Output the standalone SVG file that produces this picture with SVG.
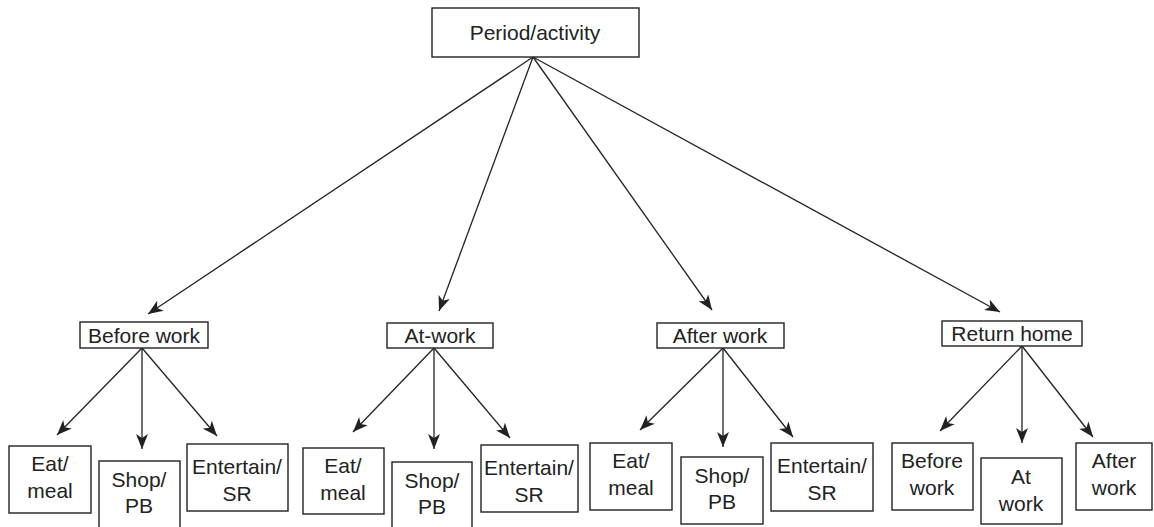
<svg xmlns="http://www.w3.org/2000/svg" width="1154" height="527" viewBox="0 0 1154 527">
<style>
rect{fill:#fff;stroke:#222;stroke-width:1.4}
text{font-family:"Liberation Sans",Arial,sans-serif;font-size:21px;fill:#222;text-anchor:middle}
.c line{stroke:#222;stroke-width:1.3;marker-end:url(#ah)}
</style>
<defs>
<marker id="ah" markerUnits="userSpaceOnUse" markerWidth="16" markerHeight="12" refX="15" refY="6" orient="auto">
<path d="M0,0 L15,6 L0,12 L4,6 Z" fill="#222"/>
</marker>
</defs>
<g class="c" id="connectors">
<line x1="533" y1="57" x2="148" y2="314"/>
<line x1="533" y1="57" x2="439" y2="311"/>
<line x1="533" y1="57" x2="712" y2="310"/>
<line x1="533" y1="57" x2="1000" y2="312"/>
<line x1="142" y1="348" x2="57" y2="435"/>
<line x1="142" y1="348" x2="142" y2="449"/>
<line x1="142" y1="348" x2="217" y2="436"/>
<line x1="434" y1="348" x2="353" y2="432"/>
<line x1="434" y1="348" x2="434" y2="449"/>
<line x1="434" y1="348" x2="510" y2="438"/>
<line x1="723" y1="348" x2="640" y2="430"/>
<line x1="723" y1="348" x2="723" y2="447"/>
<line x1="723" y1="348" x2="793" y2="437"/>
<line x1="1022" y1="346" x2="940" y2="431"/>
<line x1="1022" y1="346" x2="1022" y2="443"/>
<line x1="1022" y1="346" x2="1093" y2="437"/>
</g>
<g id="root"><rect x="432" y="8" width="207" height="49"/><text x="535" y="40">Period/activity</text></g>
<g id="before"><rect x="80" y="322" width="128" height="26"/><text x="144" y="343">Before work</text></g>
<g id="atwork"><rect x="387" y="323" width="106" height="25"/><text x="440" y="343">At-work</text></g>
<g id="after"><rect x="657" y="323" width="127" height="25"/><text x="720" y="343">After work</text></g>
<g id="return"><rect x="942" y="321" width="140" height="25"/><text x="1012" y="341">Return home</text></g>

<g id="b-eat"><rect x="9" y="446" width="82" height="67"/><text x="50" y="471">Eat/</text><text x="50" y="498">meal</text></g>
<g id="b-shop"><rect x="99" y="461" width="81" height="80"/><text x="139" y="487">Shop/</text><text x="139" y="513">PB</text></g>
<g id="b-ent"><rect x="187" y="444" width="101" height="67"/><text x="237" y="474">Entertain/</text><text x="237" y="501">SR</text></g>

<g id="a-eat"><rect x="303" y="448" width="81" height="66"/><text x="343" y="473">Eat/</text><text x="343" y="500">meal</text></g>
<g id="a-shop"><rect x="392" y="462" width="80" height="80"/><text x="432" y="488">Shop/</text><text x="432" y="514">PB</text></g>
<g id="a-ent"><rect x="481" y="445" width="97" height="67"/><text x="529" y="475">Entertain/</text><text x="529" y="502">SR</text></g>

<g id="f-eat"><rect x="590" y="443" width="82" height="67"/><text x="631" y="468">Eat/</text><text x="631" y="495">meal</text></g>
<g id="f-shop"><rect x="681" y="457" width="82" height="67"/><text x="722" y="483">Shop/</text><text x="722" y="509">PB</text></g>
<g id="f-ent"><rect x="771" y="443" width="102" height="68"/><text x="822" y="473">Entertain/</text><text x="822" y="500">SR</text></g>

<g id="r-before"><rect x="892" y="443" width="81" height="67"/><text x="932" y="468">Before</text><text x="932" y="495">work</text></g>
<g id="r-at"><rect x="981" y="458" width="81" height="66"/><text x="1021" y="484">At</text><text x="1021" y="511">work</text></g>
<g id="r-after"><rect x="1076" y="443" width="76" height="67"/><text x="1114" y="468">After</text><text x="1114" y="495">work</text></g>
</svg>
